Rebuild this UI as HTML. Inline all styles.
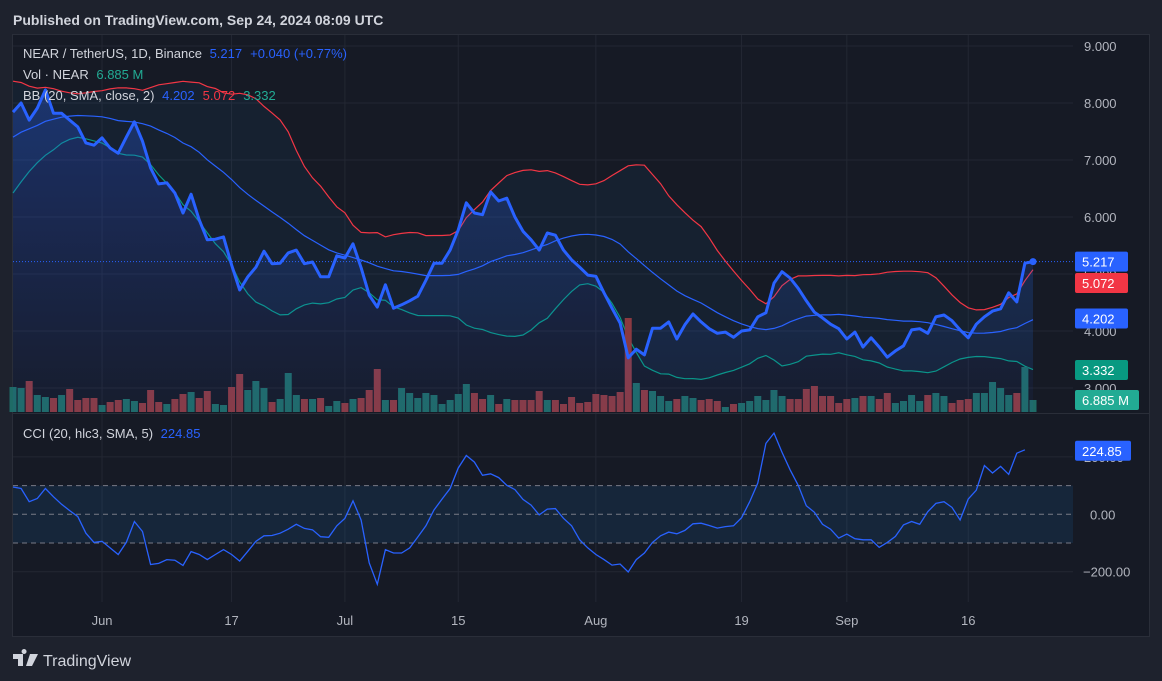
<!DOCTYPE html>
<html><head><meta charset="utf-8"><style>
body{margin:0;background:#1e222d;width:1162px;height:681px;overflow:hidden;font-family:"Liberation Sans",sans-serif}
svg{position:absolute;left:0;top:0}
</style></head><body>
<svg id="c" width="1162" height="681">
<defs>
<linearGradient id="ag" x1="0" y1="0" x2="0" y2="1">
<stop offset="0" stop-color="#2962ff" stop-opacity="0.30"/>
<stop offset="1" stop-color="#2962ff" stop-opacity="0.04"/>
</linearGradient>
</defs>
<text x="13" y="25" fill="#d1d4dc" font-size="14" font-weight="bold">Published on TradingView.com, Sep 24, 2024 08:09 UTC</text>
<rect x="12.5" y="34.5" width="1137" height="602" fill="#161a25" stroke="#2a2e39"/>
<g id="grid"></g>
<g id="bb"></g>
<g id="vol"></g>
<g id="price"></g>
<g id="cci"></g>
<g id="axes"></g>
<g id="labels"></g>
<g font-size="13">
<text x="23" y="58" fill="#d1d4dc">NEAR / TetherUS, 1D, Binance <tspan fill="#2962ff" dx="4">5.217</tspan><tspan fill="#2962ff" dx="8">+0.040 (+0.77%)</tspan></text>
<text x="23" y="79" fill="#d1d4dc">Vol · NEAR <tspan fill="#22ab94" dx="4">6.885 M</tspan></text>
<text x="23" y="100" fill="#d1d4dc">BB (20, SMA, close, 2) <tspan fill="#2962ff" dx="4">4.202</tspan><tspan fill="#f23645" dx="8">5.072</tspan><tspan fill="#22ab94" dx="8">3.332</tspan></text>
<text x="23" y="438" fill="#d1d4dc">CCI (20, hlc3, SMA, 5) <tspan fill="#2962ff" dx="4">224.85</tspan></text>
</g>
<g>
<path d="M13 654h10v12h-5v-7h-5z M24 654a2.5 2.5 0 1 1 0.1 0z M30 654h8l-6 12h-6z" fill="#d1d4dc"/>
<text x="43" y="666" fill="#d1d4dc" font-size="16">TradingView</text>
</g>
</svg>
<script>
const preCloses=[6.3,6.5,6.7,6.8,7.1,7.1,7.3,7.4,7.4,7.4,7.6,7.75,7.9,7.7,7.85,7.95,7.7,7.9,7.85];
const closes=[7.84,8.00,7.70,7.91,8.23,7.82,7.82,7.70,7.58,7.30,7.26,7.39,7.21,7.12,7.40,7.67,7.33,6.86,6.58,6.60,6.42,6.07,6.40,5.95,5.60,5.61,5.65,5.16,4.72,4.95,5.12,5.40,5.18,5.19,5.37,5.42,5.18,5.21,4.95,4.95,5.32,5.28,5.53,5.11,4.63,4.42,4.81,4.40,4.46,
4.53,4.61,4.89,5.19,5.19,5.42,5.77,6.25,6.07,6.04,6.44,6.28,6.33,6.00,5.75,5.60,5.42,5.72,5.68,5.42,5.25,5.12,4.98,4.96,4.67,4.40,4.14,3.53,3.68,3.58,4.05,4.05,4.16,3.86,4.11,4.30,4.16,4.04,3.96,3.98,3.89,
4.00,4.02,4.25,4.32,4.84,5.04,4.93,4.75,4.53,4.33,4.23,4.12,4.04,3.86,3.98,3.72,3.88,3.72,3.54,3.65,3.74,4.02,4.04,3.96,4.25,4.28,4.18,4.02,3.88,4.12,4.25,4.35,4.39,4.67,4.51,5.19,5.217];
const volume=[25,24,31,17,15,14,17,23,12,14,14,7,10,12,13,11,9,22,10,8,13,18,20,14,21,8,7,25,38,22,31,24,10,13,39,17,13,13,14,6,11,9,13,14,22,43,12,12,24,
19,14,19,17,8,12,18,28,19,13,17,8,13,12,12,12,21,12,12,8,15,9,10,18,17,16,20,94,29,22,21,16,11,13,16,14,12,13,11,5,8,
9,11,16,12,22,16,13,13,23,26,16,16,9,13,14,16,16,13,19,9,11,17,11,17,19,16,9,12,13,19,19,30,24,17,19,45,12];
const cci=[95,90,44,55,90,61,35,13,-8,-66,-98,-94,-117,-140,-98,-25,-60,-175,-171,-158,-160,-178,-130,-140,-158,-140,-123,-140,-163,-129,-94,-75,-74,-66,-52,-35,-49,-54,-78,-80,-40,-14,47,-20,-169,-244,-123,-135,-135,
-117,-79,-40,15,53,90,161,205,182,136,141,128,101,86,52,32,-2,18,20,-14,-40,-89,-117,-140,-158,-177,-173,-201,-158,-135,-98,-75,-62,-68,-56,-33,-31,-39,-48,-43,
-40,-12,44,109,247,283,216,155,101,30,7,-35,-52,-83,-69,-85,-89,-89,-115,-98,-77,-37,-25,-35,9,38,44,24,-20,53,84,170,144,167,139,213,224.85];
const timeTickLabels=["Jun","17","Jul","15","Aug","19","Sep","16"];
const timeTickIndex=[11,27,41,55,72,90,103,118];
const priceTicks=[9,8,7,6,5,4,3];
const cciTicks=[200,0,-200];
const lastValues={bbUpper:5.072,bbBasis:4.202,bbLower:3.332,volume:"6.885 M"};

const NS="http://www.w3.org/2000/svg";
const X0=13,X1=1033,PLOT_R=1073;
const step=(X1-X0)/(closes.length-1);
const xs=i=>X0+i*step;
const py=p=>274-(p-5)*57;
const cy=v=>514.3-v*0.287;
const vy=v=>412-v;
function mk(tag,attrs,parent){const e=document.createElementNS(NS,tag);for(const k in attrs)e.setAttribute(k,attrs[k]);document.getElementById(parent).appendChild(e);return e;}

priceTicks.forEach(t=>{const l=mk('line',{x1:13,x2:PLOT_R,y1:py(t),y2:py(t),stroke:'#232733'},'grid');

});
[200,-200].forEach(t=>{const l=mk('line',{x1:13,x2:PLOT_R,y1:cy(t),y2:cy(t),stroke:'#232733'},'grid');

});
timeTickIndex.forEach(i=>{const l=mk('line',{x1:xs(i),x2:xs(i),y1:35,y2:602,stroke:'#232733'},'grid');

});
let sep=mk('line',{x1:13,x2:1149,y1:413.5,y2:413.5,stroke:'#2a2e39'},'grid');



const all=preCloses.concat(closes);
const up=[],mid=[],lo=[];
for(let i=0;i<closes.length;i++){const w=all.slice(i,i+20);const m=w.reduce((a,b)=>a+b,0)/20;const sd=Math.sqrt(w.reduce((a,b)=>a+(b-m)*(b-m),0)/20);mid.push(m);up.push(m+2*sd);lo.push(m-2*sd);}
const pts=a=>a.map((v,i)=>xs(i).toFixed(1)+','+py(v).toFixed(1));
let bf=mk('polygon',{points:pts(up).concat(pts(lo).reverse()).join(' '),fill:'rgba(33,150,243,0.06)'},'bb');



volume.forEach((v,i)=>{const g=i===0||closes[i]>=closes[i-1];const r=mk('rect',{x:xs(i)-3.5,y:vy(v),width:7,height:v,fill:g?'#1f6b66':'#8b3a41'},'vol');

});

let bu=mk('polyline',{points:pts(up).join(' '),fill:'none',stroke:'#f23645','stroke-width':1.2},'bb');


let bl=mk('polyline',{points:pts(lo).join(' '),fill:'none',stroke:'#089981','stroke-width':1.2},'bb');


let bm=mk('polyline',{points:pts(mid).join(' '),fill:'none',stroke:'#2962ff','stroke-width':1.2},'bb');



const pp=pts(closes);
let pa=mk('polygon',{points:[X0+',412'].concat(pp,[xs(closes.length-1)+',412']).join(' '),fill:'url(#ag)'},'price');


let pl=mk('polyline',{points:pp.join(' '),fill:'none',stroke:'#2962ff','stroke-width':3,'stroke-linejoin':'round'},'price');


const last=closes[closes.length-1];
let pd=mk('line',{x1:13,x2:PLOT_R,y1:py(last),y2:py(last),stroke:'#2962ff','stroke-dasharray':'1 2'},'price');


let dot=mk('circle',{cx:xs(closes.length-1),cy:py(last),r:3.5,fill:'#2962ff'},'price');



let cb=mk('rect',{x:13,y:cy(100),width:PLOT_R-13,height:cy(-100)-cy(100),fill:'rgba(33,150,243,0.1)'},'cci');


[100,0,-100].forEach(t=>{const l=mk('line',{x1:13,x2:PLOT_R,y1:cy(t),y2:cy(t),stroke:'#787b86','stroke-dasharray':'5 4'},'cci');

});
let cl=mk('polyline',{points:cci.map((v,i)=>xs(i).toFixed(1)+','+cy(v).toFixed(1)).join(' '),fill:'none',stroke:'#2962ff','stroke-width':1.3},'cci');



priceTicks.forEach(t=>{const e=mk('text',{x:1084,y:py(t)+5,fill:'#b2b5be','font-size':13},'axes');e.textContent=t.toFixed(3);

});
cciTicks.forEach(t=>{const e=mk('text',{x:t<0?1083:1084+(t===0?6:0),y:cy(t)+5,fill:'#b2b5be','font-size':13},'axes');e.textContent=(t<0?'\u2212'+(-t).toFixed(2):t.toFixed(2));

});
timeTickIndex.forEach((i,k)=>{const e=mk('text',{x:xs(i),y:625,fill:'#b2b5be','font-size':13,'text-anchor':'middle'},'axes');e.textContent=timeTickLabels[k];

});

function badge(y,txt,bg,w,name){const r=mk('rect',{x:1075,y:y-10,width:w,height:20,rx:2,fill:bg},'labels');


const t=mk('text',{x:1082,y:y+5,fill:'#ffffff','font-size':13},'labels');t.textContent=txt;

}
badge(283,lastValues.bbUpper.toFixed(3),'#f23645',53,'bb-upper-badge');
badge(py(last),last.toFixed(3),'#2962ff',53,'last-price-badge');
badge(py(lastValues.bbBasis)-1,lastValues.bbBasis.toFixed(3),'#2962ff',53,'bb-basis-badge');
badge(370,lastValues.bbLower.toFixed(3),'#089981',53,'bb-lower-badge');
badge(400,lastValues.volume,'#22ab94',64,'volume-badge');
badge(cy(cci[cci.length-1])+1,cci[cci.length-1].toFixed(2),'#2962ff',56,'cci-badge');
</script>
</body></html>
